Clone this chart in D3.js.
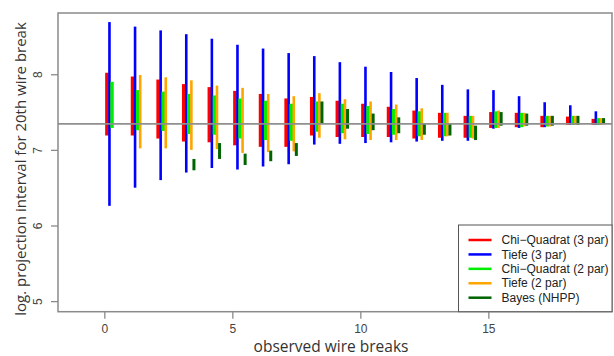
<!DOCTYPE html>
<html>
<head>
<meta charset="utf-8">
<script src="https://cdn.jsdelivr.net/npm/d3@7"></script>
<style>
  body { margin: 0; background: #fff; }
  svg { display: block; }
  text { font-family: "Liberation Sans", Arial, sans-serif; }
</style>
</head>
<body>
<svg id="chart" width="614" height="356"></svg>
<script>
// observed wire breaks 0..19
var breaks = [0, 1, 2, 3, 4, 5, 6, 7, 8, 9, 10, 11, 12, 13, 14, 15, 16, 17, 18, 19];

// log. projection intervals (lower / upper) per method, null = not available
var chiq3Lo = [7.19, 7.19, 7.15, 7.11, 7.10, 7.06, 7.04, 7.04, 7.19, 7.17, 7.17, 7.17, 7.15, 7.16, 7.16, 7.29, 7.30, 7.30, 7.33, 7.33];
var chiq3Hi = [8.02, 7.97, 7.93, 7.87, 7.83, 7.78, 7.74, 7.68, 7.70, 7.65, 7.61, 7.57, 7.52, 7.49, 7.45, 7.50, 7.49, 7.45, 7.44, 7.41];
var tiefe3Lo = [6.26, 6.50, 6.60, 6.70, 6.76, 6.74, 6.78, 6.81, 7.07, 7.08, 7.09, 7.10, 7.11, 7.12, 7.12, 7.28, 7.29, 7.30, 7.33, 7.33];
var tiefe3Hi = [8.69, 8.63, 8.58, 8.53, 8.47, 8.39, 8.34, 8.28, 8.24, 8.16, 8.10, 8.03, 7.95, 7.86, 7.80, 7.79, 7.71, 7.63, 7.59, 7.51];
var chiq2Lo = [7.29, 7.26, 7.25, 7.21, 7.20, 7.15, 7.13, 7.12, 7.24, 7.22, 7.21, 7.20, 7.18, 7.18, 7.16, 7.29, 7.30, 7.31, 7.33, 7.33];
var chiq2Hi = [7.90, 7.79, 7.77, 7.74, 7.72, 7.68, 7.65, 7.61, 7.64, 7.61, 7.58, 7.54, 7.51, 7.49, 7.45, 7.51, 7.49, 7.45, 7.45, 7.42];
var tiefe2Lo = [null, 7.02, 7.02, 7.00, 7.01, 6.96, 6.97, 6.98, 7.16, 7.14, 7.13, 7.13, 7.13, 7.18, 7.15, 7.29, 7.31, 7.31, 7.33, 7.33];
var tiefe2Hi = [null, 7.99, 7.96, 7.92, 7.85, 7.82, 7.74, 7.71, 7.75, 7.67, 7.64, 7.60, 7.55, 7.49, 7.45, 7.52, 7.49, 7.45, 7.45, 7.42];
var bayesLo = [null, null, null, 6.73, 6.88, 6.80, 6.85, 6.92, 7.35, 7.28, 7.26, 7.22, 7.20, 7.19, 7.13, 7.32, 7.32, 7.32, 7.33, 7.34];
var bayesHi = [null, null, null, 6.88, 7.09, 6.95, 6.99, 7.09, 7.64, 7.54, 7.48, 7.43, 7.35, 7.35, 7.32, 7.50, 7.48, 7.45, 7.45, 7.42];

var refLevel = 7.344;   // reference line (true value)

var seriesNames = ['Chi\u2212Quadrat (3 par)', 'Tiefe (3 par)', 'Chi\u2212Quadrat (2 par)', 'Tiefe (2 par)', 'Bayes (NHPP)'];
var seriesColors = ['#ff0000', '#0000ff', '#00ee00', '#ffa500', '#006400'];
var seriesOffsets = [0.1, 0.2, 0.3, 0.4, 0.5];
var seriesWidths = [3.5, 2.6, 3.5, 2.6, 3];
var seriesLo = [chiq3Lo, tiefe3Lo, chiq2Lo, tiefe2Lo, bayesLo];
var seriesHi = [chiq3Hi, tiefe3Hi, chiq2Hi, tiefe2Hi, bayesHi];

var xTicks = [0, 5, 10, 15];
var yTicks = [5, 6, 7, 8];

//-----------------------------------------------------------------------------
var svg = d3.select('#chart');
var plotLeft = 58, plotRight = 612, plotTop = 13, plotBottom = 311.7;

var x = d3.scaleLinear().domain([-1.81, 19.83]).range([plotLeft, plotRight]);
var y = d3.scaleLinear().domain([4.86, 8.81]).range([plotBottom, plotTop]);

var axisColor = '#8a8a8a';
var labelColor = '#444';

// interval bars
seriesNames.forEach(function(name, s) {
    var rows = breaks.map(function(b, i) {
        return {b: b, lo: seriesLo[s][i], hi: seriesHi[s][i]};
    }).filter(function(d) { return d.lo != null && d.hi != null; });

    svg.append('g').selectAll('line')
        .data(rows)
        .enter().append('line')
        .attr('x1', function(d) { return x(d.b + seriesOffsets[s]); })
        .attr('x2', function(d) { return x(d.b + seriesOffsets[s]); })
        .attr('y1', function(d) { return y(d.lo); })
        .attr('y2', function(d) { return y(d.hi); })
        .style('stroke', seriesColors[s])
        .style('stroke-width', seriesWidths[s]);
});

// reference line
svg.append('line')
    .attr('x1', plotLeft).attr('x2', plotRight)
    .attr('y1', y(refLevel)).attr('y2', y(refLevel))
    .style('stroke', '#8f8f8f')
    .style('stroke-width', 1.6);

// frame
svg.append('rect')
    .attr('x', plotLeft).attr('y', plotTop)
    .attr('width', plotRight - plotLeft).attr('height', plotBottom - plotTop)
    .style('fill', 'none')
    .style('stroke', axisColor)
    .style('stroke-width', 1.5);

// x axis
var xAxis = d3.axisBottom(x).tickValues(xTicks).tickFormat(d3.format('d')).tickSize(7).tickPadding(6);
var gx = svg.append('g').attr('transform', 'translate(0,' + plotBottom + ')').call(xAxis);
gx.select('.domain').remove();
gx.selectAll('.tick line').style('stroke', axisColor).style('stroke-width', 1.3);
gx.selectAll('.tick text')
    .style('font-size', '12px')
    .style('font-family', '"Liberation Sans", Arial, sans-serif')
    .style('fill', labelColor);

// y axis
var yAxis = d3.axisLeft(y).tickValues(yTicks).tickFormat(d3.format('d')).tickSize(7).tickPadding(0);
var gy = svg.append('g').attr('transform', 'translate(' + plotLeft + ',0)').call(yAxis);
gy.select('.domain').remove();
gy.selectAll('.tick line').style('stroke', axisColor).style('stroke-width', 1.3);
gy.selectAll('.tick text')
    .attr('x', 0).attr('dy', null)
    .attr('text-anchor', 'middle')
    .attr('transform', 'translate(-16.5,0) rotate(-90)')
    .style('font-size', '12px')
    .style('font-family', '"Liberation Sans", Arial, sans-serif')
    .style('fill', labelColor);

// axis titles
svg.append('text')
    .attr('x', 331).attr('y', 352)
    .attr('text-anchor', 'middle')
    .style('font-family', '"Open Sans", "Noto Sans", sans-serif')
    .style('font-size', '15.5px')
    .style('fill', '#333')
    .text('observed wire breaks');

svg.append('text')
    .attr('transform', 'translate(26,169) rotate(-90)')
    .attr('text-anchor', 'middle')
    .style('font-family', '"Open Sans", "Noto Sans", sans-serif')
    .style('font-size', '15px')
    .style('fill', '#333')
    .text('log. projection interval for 20th wire break');

// legend
var legend = svg.append('g');
legend.append('rect')
    .attr('x', 458.5).attr('y', 225)
    .attr('width', plotRight - 458.5).attr('height', plotBottom - 225)
    .style('fill', '#fff')
    .style('stroke', '#555')
    .style('stroke-width', 1);

var rowY = d3.scaleLinear().domain([0, 4]).range([240, 297.7]);
var rowsG = legend.selectAll('.leg-row')
    .data(seriesNames)
    .enter().append('g')
    .attr('class', 'leg-row')
    .attr('transform', function(d, i) { return 'translate(0,' + rowY(i) + ')'; });

rowsG.append('line')
    .attr('x1', 468.5).attr('x2', 491.5)
    .style('stroke', function(d, i) { return seriesColors[i]; })
    .style('stroke-width', 2.5);

rowsG.append('text')
    .attr('x', 501.5).attr('dy', '0.35em')
    .style('font-size', '12px')
    .style('fill', '#222')
    .text(function(d) { return d; });
</script>
</body>
</html>
